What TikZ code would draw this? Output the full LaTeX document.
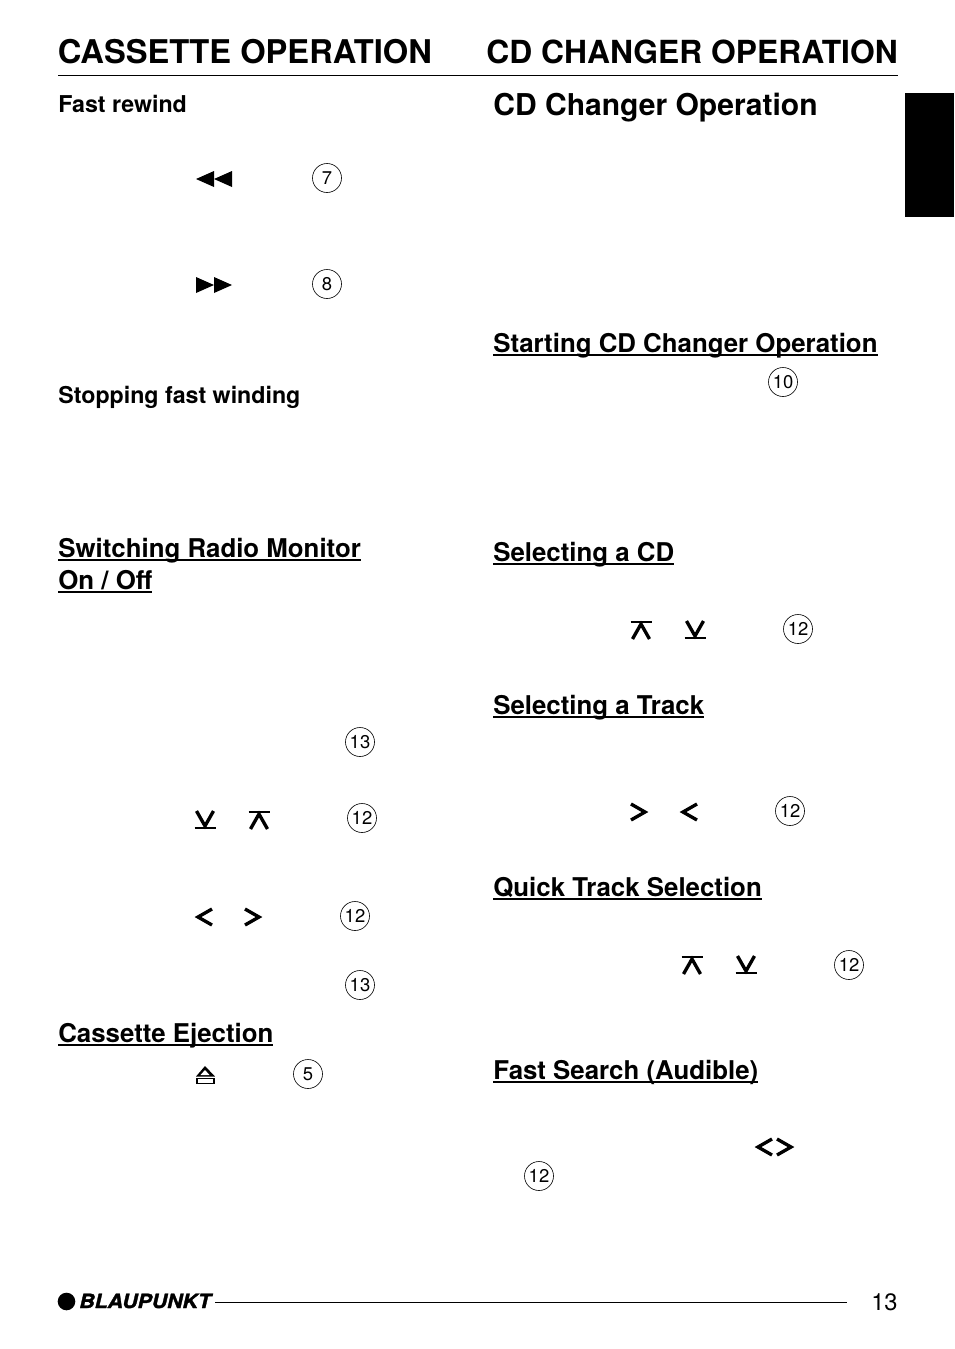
\documentclass[tikz,border=0pt]{standalone}
\usepackage{fontspec}
\setmainfont{TeX Gyre Heros}
\newfontfamily\brandfont[FakeBold=1.6,FakeStretch=1.08]{TeX Gyre Heros}
\usepackage{tikz}
\usetikzlibrary{positioning,calc}
\tikzset{>=latex}
\tikzset{
  maintitle/.style={anchor=base west,inner sep=0pt,font=\fontsize{18.6}{23}\selectfont\bfseries},
  changertitle/.style={anchor=base west,inner sep=0pt,font=\fontsize{18.1}{23}\selectfont\bfseries},
  subtitle/.style={anchor=base west,inner sep=0pt,font=\fontsize{17.1}{20}\selectfont\bfseries},
  heading/.style={anchor=base west,inner sep=0pt,font=\fontsize{14.7}{18}\selectfont\bfseries},
  sidehead/.style={anchor=base west,inner sep=0pt,font=\fontsize{13.2}{16}\selectfont\bfseries},
  keynum/.style={draw,circle,line width=0.35pt,minimum size=16.5pt,inner sep=0pt,font=\fontsize{10.5}{12}\selectfont},
  keyline/.style={line width=1.9pt,line cap=butt,line join=miter},
  keybar/.style={line width=1.3pt},
}
% heading text with its rule just under the baseline
\newcommand{\rulehead}[1]{\sbox0{#1}\rlap{\usebox0}\rule[-2pt]{\wd0}{0.75pt}}
\newcommand{\keyleft}[1]{\draw[keyline] ($(#1)+(8,-8)$) -- ($(#1)+(-6,0)$) -- ($(#1)+(8,8)$);}
\newcommand{\keyright}[1]{\draw[keyline] ($(#1)+(-8,-8)$) -- ($(#1)+(6,0)$) -- ($(#1)+(-8,8)$);}
\newcommand{\keydown}[1]{
  \draw[keyline] ($(#1)+(-8.5,-9)$) -- ($(#1)+(0,6)$) -- ($(#1)+(8.5,-9)$);
  \draw[keybar] ($(#1)+(-10.5,8)$) -- ($(#1)+(10.5,8)$);}
\newcommand{\keyup}[1]{
  \draw[keyline] ($(#1)+(-8.5,9)$) -- ($(#1)+(0,-6)$) -- ($(#1)+(8.5,9)$);
  \draw[keybar] ($(#1)+(-10.5,-8)$) -- ($(#1)+(10.5,-8)$);}
\begin{document}
\begin{tikzpicture}[x=0.02cm,y=-0.02cm]
  \useasboundingbox (0,0) rectangle (954,1349);
  % page head
  \node[maintitle] (cassette) at (57.5,63) {CASSETTE OPERATION};
  \node[changertitle] (changer) at (486,63) {CD CHANGER OPERATION};
  \draw[line width=0.6pt] (58,75.5) -- (898,75.5);
  \fill[black] (905,93) rectangle (954,217);
  % left column
  \node[sidehead] (rewind) at (58,112) {Fast rewind};
  \fill[black] (196,179) -- (214,171) -- (214,187) -- cycle;
  \fill[black] (214,179) -- (232,171) -- (232,187) -- cycle;
  \node[keynum] (seven) at (327,178) {7};
  \fill[black] (232,285) -- (214,277) -- (214,293) -- cycle;
  \fill[black] (214,285) -- (196,277) -- (196,293) -- cycle;
  \node[keynum] (eight) at (327,284) {8};
  \node[sidehead] (stopping) at (58,403) {Stopping fast winding};
  \node[heading] (monitor) at (58,557) {\rulehead{Switching Radio Monitor}};
  \node[heading] (onoff) at (58,589) {\rulehead{On / Off}};
  \node[keynum] (thirteena) at (360,742) {13};
  \keydown{205,820}
  \keyup{259,820}
  \node[keynum] (twelvea) at (362,818) {12};
  \keyleft{204,917}
  \keyright{253,917}
  \node[keynum] (twelveb) at (355,916) {12};
  \node[keynum] (thirteenb) at (360,985) {13};
  \node[heading] (ejection) at (58,1042) {\rulehead{Cassette Ejection}};
  \fill[black] (205,1066) -- (215,1076.5) -- (196,1076.5) -- cycle;
  \fill[white] (205,1070) -- (209.5,1075) -- (200.5,1075) -- cycle;
  \draw[line width=1.1pt] (197,1078.5) rectangle (214,1083.5);
  \node[keynum] (five) at (308,1074) {5};
  % right column
  \node[subtitle] (operation) at (493,115) {CD Changer Operation};
  \node[heading] (starting) at (493,352) {\rulehead{Starting CD Changer Operation}};
  \node[keynum] (ten) at (783,382) {10};
  \node[heading] (selectcd) at (493,561) {\rulehead{Selecting a CD}};
  \keyup{641,630}
  \keydown{695,630}
  \node[keynum] (twelvec) at (798,629) {12};
  \node[heading] (selecttrack) at (493,714) {\rulehead{Selecting a Track}};
  \keyright{639,812}
  \keyleft{689,812}
  \node[keynum] (twelved) at (790,811) {12};
  \node[heading] (quick) at (493,896) {\rulehead{Quick Track Selection}};
  \keyup{692,965}
  \keydown{746,965}
  \node[keynum] (twelvee) at (849,965) {12};
  \node[heading] (search) at (493,1079) {\rulehead{Fast Search (Audible)}};
  \keyleft{764,1147}
  \keyright{785,1147}
  \node[keynum] (twelvef) at (539,1176) {12};
  % page foot
  \fill[black] (66.5,1301.5) circle (8.8);
  \node[anchor=base west,inner sep=0pt,font=\brandfont\fontsize{11.2}{14}\selectfont\bfseries\itshape] (brand) at (79,1308) {BLAUPUNKT};
  \coordinate (footend) at (847,1302.5);
  \draw[line width=0.55pt] (215,1302.5) -- (footend);
  \node[anchor=base east,inner sep=0pt,font=\fontsize{13.5}{16}\selectfont] (pagenum) at (898,1310) {13};
\end{tikzpicture}
\end{document}
